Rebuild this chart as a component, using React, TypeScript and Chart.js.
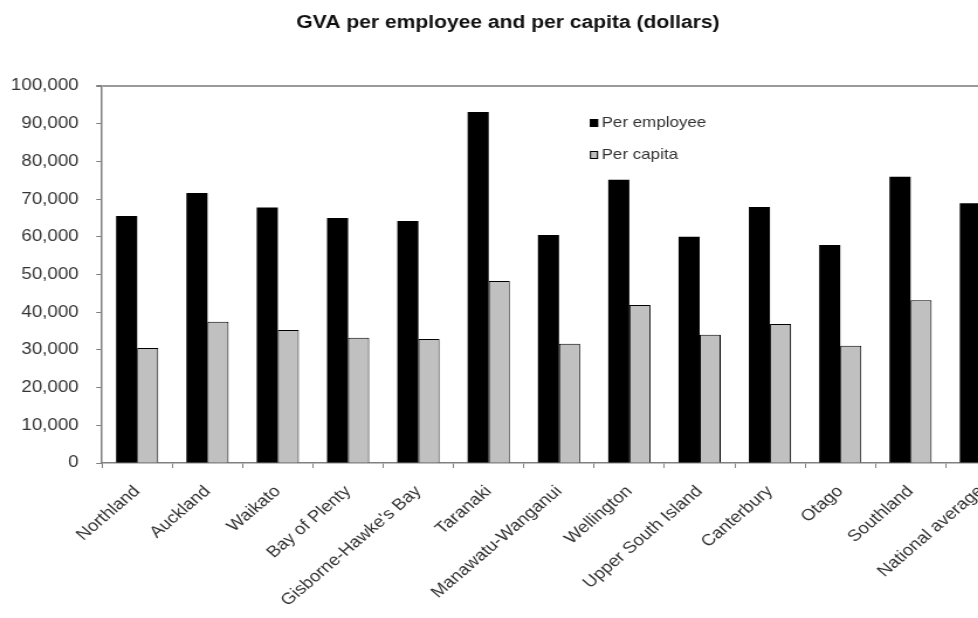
import React, { useEffect, useRef } from "react";
import { Chart, registerables } from "chart.js";

Chart.register(...registerables);

const categories = [
  "Northland",
  "Auckland",
  "Waikato",
  "Bay of Plenty",
  "Gisborne-Hawke's Bay",
  "Taranaki",
  "Manawatu-Wanganui",
  "Wellington",
  "Upper South Island",
  "Canterbury",
  "Otago",
  "Southland",
  "National average",
];

const perEmployee = [65500, 71600, 67800, 65000, 64200, 93100, 60500, 75100, 60000, 67900, 57800, 75900, 68900];
const perCapita = [30500, 37500, 35300, 33200, 32900, 48300, 31600, 41900, 34000, 36900, 31100, 43200, 36500];

const yTicks = [0, 10000, 20000, 30000, 40000, 50000, 60000, 70000, 80000, 90000, 100000];

const titleText = "GVA per employee and per capita (dollars)";

const STRETCH = 1.17;
const LOGICAL_W = 891;
const H = 618;

const legendPlugin = {
  id: "innerLegend",
  afterDatasetsDraw(chart: any) {
    const { ctx, chartArea } = chart;
    const rows = [37, 69];
    ctx.save();
    chart.data.datasets.forEach((ds: any, i: number) => {
      const bx = chartArea.left + 417;
      const by = chartArea.top + rows[i] - 4;
      ctx.fillStyle = ds.backgroundColor;
      ctx.fillRect(bx, by, 7, 8);
      ctx.strokeStyle = "#000";
      ctx.lineWidth = 1;
      ctx.strokeRect(bx + 0.5, by + 0.5, 6, 7);
      ctx.fillStyle = "#333";
      ctx.font = "14.5px 'Liberation Sans', Arial, sans-serif";
      ctx.textBaseline = "middle";
      ctx.textAlign = "left";
      ctx.fillText(ds.label, chartArea.left + 427, chartArea.top + rows[i]);
    });
    ctx.restore();
  },
};

export default function App() {
  const ref = useRef<HTMLCanvasElement | null>(null);

  useEffect(() => {
    const canvas = ref.current;
    if (!canvas) return;
    const chart = new Chart(canvas, {
      type: "bar",
      data: {
        labels: categories,
        datasets: [
          {
            label: "Per employee",
            data: perEmployee,
            backgroundColor: "#000000",
            borderWidth: 0,
            categoryPercentage: 0.6,
            barPercentage: 1.0,
          },
          {
            label: "Per capita",
            data: perCapita,
            backgroundColor: "#c0c0c0",
            borderColor: "#000000",
            borderWidth: 1,
            categoryPercentage: 0.6,
            barPercentage: 1.0,
          },
        ],
      },
      options: {
        responsive: false,
        animation: false,
        devicePixelRatio: 1,
        layout: { padding: { left: 0, right: 22.6, top: 0, bottom: 0 } },
        plugins: {
          legend: { display: false },
          tooltip: { enabled: false },
          title: {
            display: true,
            text: titleText,
            color: "#111",
            font: { family: "'Liberation Sans', Arial, sans-serif", size: 18, weight: "bold" },
            padding: { top: 12.2, bottom: 52.2 },
          },
        },
        scales: {
          x: {
            grid: {
              offset: true,
              drawOnChartArea: false,
              drawTicks: true,
              tickLength: 5,
              tickColor: "#808080",
            },
            border: { color: "#808080", width: 1.5 },
            ticks: {
              minRotation: 45,
              maxRotation: 45,
              autoSkip: false,
              padding: 14,
              color: "#333",
              font: { family: "'Liberation Sans', Arial, sans-serif", size: 16 },
            },
            afterFit: (scale: any) => {
              scale.height = 155;
            },
          },
          y: {
            min: 0,
            max: 100000,
            afterBuildTicks: (scale: any) => {
              scale.ticks = yTicks.map((v) => ({ value: v }));
            },
            grid: {
              drawOnChartArea: true,
              color: (c: any) => (c.tick && c.tick.value === 100000 ? "#9a9a9a" : "rgba(0,0,0,0)"),
              lineWidth: (c: any) => (c.tick && c.tick.value === 100000 ? 2 : 1),
              tickColor: "#808080",
              tickLength: 5,
            },
            border: { color: "#808080", width: 1.5 },
            ticks: {
              padding: 15,
              color: "#333",
              font: { family: "'Liberation Sans', Arial, sans-serif", size: 16 },
              callback: (v: any) => Number(v).toLocaleString("en-US"),
            },
            afterFit: (scale: any) => {
              scale.width = 87.2;
            },
          },
        },
      },
      plugins: [legendPlugin],
    });
    return () => chart.destroy();
  }, []);

  return (
    <div style={{ width: 978, height: H, overflow: "hidden", background: "#fff" }}>
      <style>{"html,body{margin:0;padding:0;overflow:hidden;background:#fff}"}</style>
      <div style={{ transform: `scaleX(${STRETCH})`, transformOrigin: "0 0", width: LOGICAL_W, height: H }}>
        <canvas
          ref={ref}
          width={LOGICAL_W}
          height={H}
          style={{ width: LOGICAL_W, height: H, display: "block" }}
        />
      </div>
    </div>
  );
}
